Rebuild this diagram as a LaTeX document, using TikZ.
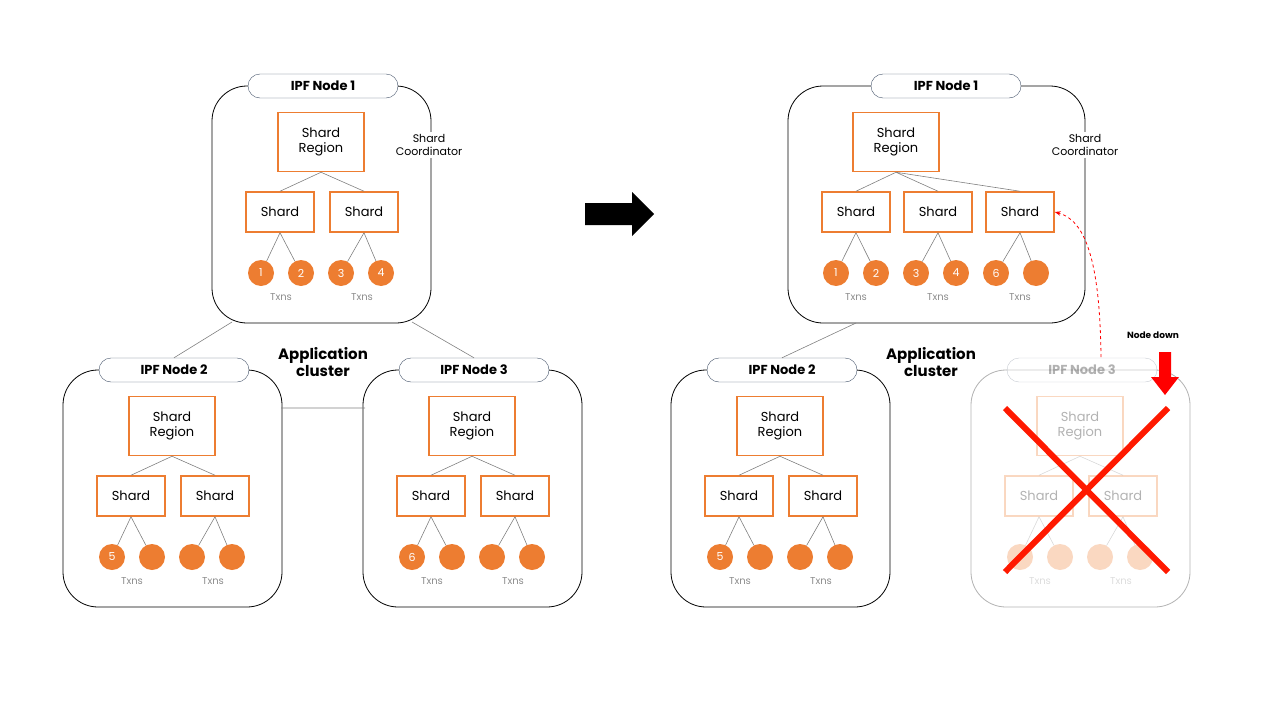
\documentclass[tikz,border=0pt]{standalone}
\usepackage{fontspec}
\setmainfont{Poppins}
\usetikzlibrary{arrows.meta}
\definecolor{org}{HTML}{ED7D31}
\definecolor{pill}{HTML}{44546A}
\definecolor{txn}{HTML}{8C8C8C}
\tikzset{
  x=1pt,y=-1pt,
  clbox/.style={draw=black,rounded corners=35pt,line width=0.8pt},
  pillbox/.style={draw=pill,fill=white,rounded corners=12pt,minimum width=150pt,minimum height=24pt,font=\bfseries\fontsize{13}{13}\selectfont,inner sep=0pt},
  regbox/.style={draw=org,line width=1.5pt,fill=white,minimum width=86pt,minimum height=59pt,align=center,font=\fontsize{13}{15}\selectfont,inner sep=0pt},
  shardbox/.style={draw=org,line width=1.5pt,fill=white,minimum width=68pt,minimum height=40pt,font=\fontsize{13}{13}\selectfont,inner sep=0pt},
  txc/.style={circle,fill=org,minimum size=26pt,inner sep=0pt,text=white,font=\fontsize{11}{11}\selectfont},
  txlab/.style={text=txn,font=\fontsize{10}{10}\selectfont},
  tline/.style={draw=gray,line width=0.6pt},
  coord/.style={fill=white,align=center,font=\fontsize{11}{13}\selectfont,inner sep=2pt},
  bold/.style={font=\bfseries\fontsize{15}{17}\selectfont,align=center}
}
\newcommand{\ipfcluster}[9]{%
\begin{scope}[shift={(#2,#3)},opacity=#9]
\draw[clbox] (-111,0) rectangle (108,237);
\node[pillbox] (#1t) at (0,0) {#4};
\node[regbox] (#1r) at (-2,56) {Shard\\Region};
\node[shardbox] (#1s1) at (-43,126) {Shard};
\node[shardbox] (#1s2) at (41,126) {Shard};
\node[txc] (#1c1) at (-62,187) {#5};
\node[txc] (#1c2) at (-22,187) {#6};
\node[txc] (#1c3) at (18,187) {#7};
\node[txc] (#1c4) at (58,187) {#8};
\node[txlab] (#1x1) at (-42,211) {Txns};
\node[txlab] (#1x2) at (39,211) {Txns};
\draw[tline] (#1r.south) -- (#1s1.north) (#1r.south) -- (#1s2.north);
\draw[tline] (#1s1.south) -- (#1c1) (#1s1.south) -- (#1c2);
\draw[tline] (#1s2.south) -- (#1c3) (#1s2.south) -- (#1c4);
\end{scope}}
\begin{document}
\begin{tikzpicture}
\useasboundingbox (0,0) rectangle (1280,720);
% left side
\ipfcluster{a}{323}{86}{IPF Node 1}{1}{2}{3}{4}{1}
\node[coord] (acoord) at (429,145) {Shard\\Coordinator};
\ipfcluster{b}{174}{370}{IPF Node 2}{5}{}{}{}{1}
\ipfcluster{c}{474}{370}{IPF Node 3}{6}{}{}{}{1}
\coordinate (a1) at (232,322); \coordinate (a2) at (412,322);
\coordinate (b1) at (281,408); \coordinate (c1) at (365,408);
\draw[tline] (a1) -- (bt.north) (a2) -- (ct.north) (b1) -- (c1);
\node[bold] (app1) at (323,362) {Application\\cluster};
% big arrow
\fill[black] (585,203) -- (632,203) -- (632,192) -- (654,214) -- (632,236) -- (632,225) -- (585,225) -- cycle;
% right side cluster 1
\draw[clbox] (788,86) rectangle (1085,323);
\node[pillbox] (dt) at (946,86) {IPF Node 1};
\node[coord] (dcoord) at (1085,145) {Shard\\Coordinator};
\node[regbox] (dr) at (896,142) {Shard\\Region};
\node[shardbox] (ds1) at (856,212) {Shard};
\node[shardbox] (ds2) at (938,212) {Shard};
\node[shardbox] (ds3) at (1020,212) {Shard};
\foreach \i/\x/\l in {1/836/1,2/876/2,3/916/3,4/956/4,5/996/6,6/1036/{}}
  \node[txc] (dc\i) at (\x,273) {\l};
\node[txlab] (dx1) at (856,297) {Txns};
\node[txlab] (dx2) at (938,297) {Txns};
\node[txlab] (dx3) at (1020,297) {Txns};
\draw[tline] (dr.south) -- (ds1.north) (dr.south) -- (ds2.north) (dr.south) -- (ds3.north);
\draw[tline] (ds1.south) -- (dc1) (ds1.south) -- (dc2) (ds2.south) -- (dc3) (ds2.south) -- (dc4) (ds3.south) -- (dc5) (ds3.south) -- (dc6);
\ipfcluster{e}{782}{370}{IPF Node 2}{5}{}{}{}{1}
\ipfcluster{f}{1082}{370}{IPF Node 3}{}{}{}{}{0.3}
\coordinate (d1) at (856,323);
\draw[tline] (d1) -- (et.north);
\node[bold] (app2) at (931,362) {Application\\cluster};
% node down
\node[font=\bfseries\fontsize{9}{9}\selectfont] (nd) at (1153,335) {Node down};
\fill[red] (1159,352) -- (1171,352) -- (1171,377) -- (1179,377) -- (1165,395) -- (1151,377) -- (1159,377) -- cycle;
\coordinate (x1) at (1005,408); \coordinate (x2) at (1168,572);
\coordinate (x3) at (1168,408); \coordinate (x4) at (1005,572);
\draw[red!80!orange,line width=6pt] (x1) -- (x2) (x3) -- (x4);
\coordinate (dd) at (1101,357);
\draw[red,dashed,line width=0.8pt,-{Stealth[length=6pt]}] (dd) .. controls (1100,260) and (1085,220) .. (ds3.east);
\end{tikzpicture}
\end{document}
